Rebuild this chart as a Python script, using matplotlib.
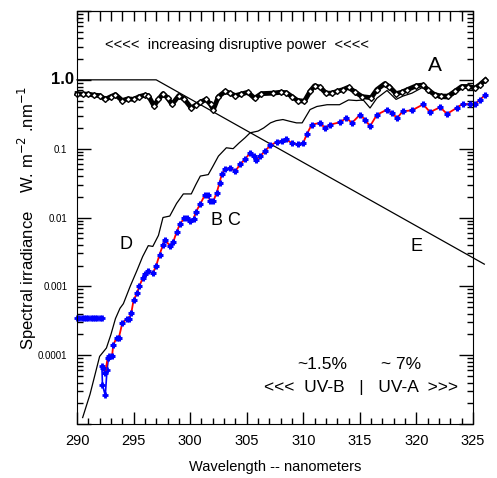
import numpy as np
import matplotlib
matplotlib.use("Agg")
import matplotlib.pyplot as plt
from matplotlib.ticker import MultipleLocator, LogLocator, NullFormatter
import matplotlib.transforms as mtransforms

plt.rcParams['font.family'] = ['Liberation Sans', 'DejaVu Sans']

# A : extraterrestrial spectrum (black diamonds)
a_wl = [290.0, 290.5, 291.0, 291.5, 292.0, 292.5, 293.0, 293.4, 294.0, 294.5,
        295.0, 295.5, 296.0, 296.3, 296.8, 297.2, 297.6, 298.0, 298.4, 299.0,
        299.5, 300.1, 300.5, 300.9, 301.4, 301.8, 302.05, 302.5, 303.1, 303.5,
        304.0, 304.5, 305.1, 305.7, 306.3, 307.3, 308.0, 308.5, 309.0, 309.5,
        310.1, 310.6, 311.0, 311.5, 312.0, 312.5, 313.0, 313.5, 314.0, 314.6,
        315.2, 316.0, 316.5, 317.2, 317.6, 318.2, 318.7, 319.2, 320.0, 320.6,
        321.0, 321.6, 322.2, 322.8, 323.4, 324.0, 324.6, 325.2, 325.6, 326.1]
a_val = [0.63, 0.62, 0.62, 0.60, 0.59, 0.52, 0.57, 0.61, 0.50, 0.53,
         0.52, 0.57, 0.60, 0.59, 0.42, 0.52, 0.63, 0.55, 0.44, 0.59,
         0.52, 0.39, 0.43, 0.47, 0.52, 0.44, 0.37, 0.57, 0.68, 0.64,
         0.59, 0.62, 0.66, 0.54, 0.63, 0.64, 0.66, 0.65, 0.57, 0.50,
         0.49, 0.68, 0.82, 0.78, 0.64, 0.64, 0.68, 0.72, 0.78, 0.66,
         0.57, 0.55, 0.72, 0.88, 0.80, 0.63, 0.66, 0.72, 0.82, 0.84,
         0.72, 0.61, 0.58, 0.58, 0.68, 0.80, 0.80, 0.76, 0.85, 1.00]

# D : thin black curve
d_wl = [290.5, 291.15, 292.0, 292.6, 293.0, 293.4, 293.8, 294.1, 294.7, 295.3,
        295.8, 296.3, 296.7, 297.2, 297.6, 298.2, 298.8, 299.4, 300.1, 300.5,
        300.9, 301.6, 302.0, 302.5, 303.2, 303.8, 304.3, 304.85, 305.3, 306.0,
        306.5, 307.1, 307.6, 308.2, 308.8, 309.4, 309.9, 310.6, 311.2, 312.1,
        313.2, 314.0, 314.7, 315.3, 315.9, 316.5, 317.4, 318.2, 318.8, 319.6,
        320.5, 321.2, 322.0, 322.8, 323.5, 324.0, 324.8, 325.3, 325.7, 326.1]
d_val = [1.24e-5, 2.7e-5, 9.6e-5, 1.27e-4, 2.0e-4, 3.4e-4, 4.8e-4, 5.6e-4, 1.0e-3, 1.7e-3,
         2.7e-3, 3.9e-3, 3.8e-3, 5.5e-3, 1.0e-2, 1.05e-2, 1.6e-2, 2.2e-2, 2.2e-2, 3.0e-2,
         4.0e-2, 4.2e-2, 5.5e-2, 7.8e-2, 0.103, 0.10, 0.12, 0.144, 0.17, 0.18,
         0.20, 0.237, 0.255, 0.265, 0.25, 0.237, 0.237, 0.37, 0.41, 0.435,
         0.435, 0.51, 0.50, 0.51, 0.39, 0.54, 0.70, 0.52, 0.58, 0.64,
         0.77, 0.66, 0.54, 0.53, 0.64, 0.75, 0.76, 0.72, 0.85, 1.00]

# B / C : blue crosses joined by red line
bc_wl = [292.3, 292.5, 292.7, 293.1, 293.2, 293.5, 293.7, 294.0, 294.4, 294.6,
         294.8, 295.0, 295.3, 295.5, 295.8, 296.0, 296.3, 296.7, 297.0, 297.3,
         297.6, 297.8, 298.2, 298.5, 298.8, 299.1, 299.5, 299.7, 300.0, 300.3,
         300.5, 300.9, 301.3, 301.6, 301.75, 302.05, 302.35, 302.6, 302.8, 303.1,
         303.5, 304.0, 304.4, 304.85, 305.3, 305.6, 305.8, 306.2, 306.6, 307.1,
         307.65, 308.1, 308.5, 309.0, 309.5, 310.0, 310.3, 310.75, 311.5, 311.9,
         312.4, 313.25, 313.8, 314.3, 315.0, 315.45, 315.9, 316.5, 317.4, 317.8,
         318.3, 318.8, 319.6, 320.6, 321.2, 322.1, 322.7, 323.55, 324.1, 324.7,
         325.2, 325.6, 326.1]
bc_val = [6.6e-5, 5.5e-5, 9.0e-5, 9.7e-5, 1.4e-4, 1.8e-4, 1.8e-4, 2.9e-4, 3.4e-4, 3.4e-4,
          4.1e-4, 6.3e-4, 7.9e-4, 1.0e-3, 1.3e-3, 1.5e-3, 1.65e-3, 1.55e-3, 2.0e-3, 2.9e-3,
          4.0e-3, 4.7e-3, 3.9e-3, 4.4e-3, 6.1e-3, 8.1e-3, 9.8e-3, 9.8e-3, 9.0e-3, 9.5e-3,
          1.2e-2, 1.58e-2, 2.12e-2, 2.1e-2, 1.75e-2, 1.73e-2, 2.3e-2, 3.2e-2, 4.3e-2, 5.0e-2,
          5.3e-2, 4.7e-2, 5.9e-2, 7.0e-2, 8.7e-2, 7.8e-2, 6.8e-2, 7.8e-2, 9.2e-2, 0.112,
          0.125, 0.130, 0.136, 0.120, 0.116, 0.122, 0.161, 0.224, 0.237, 0.20,
          0.224, 0.242, 0.28, 0.237, 0.31, 0.265, 0.212, 0.31, 0.37, 0.33,
          0.28, 0.35, 0.36, 0.44, 0.34, 0.40, 0.32, 0.39, 0.45, 0.44,
          0.45, 0.51, 0.61]

# short blue segment below the start of B/C
blue_lo_wl = [292.2, 292.25, 292.5, 292.65, 292.8]
blue_lo_val = [7.0e-5, 3.7e-5, 2.6e-5, 6.0e-5, 9.7e-5]

# flat blue crosses at the left edge
blue_flat_wl = [290.0, 290.2, 290.4, 290.6, 290.8, 291.0, 291.2, 291.4, 291.6, 291.8, 292.0, 292.2]
blue_flat_val = [3.5e-4] * 12

# E : disruptive power
e_wl = [290.0, 297.0, 326.0]
e_val = [1.0, 1.0, 0.0021]

fig = plt.figure(figsize=(4.97, 4.78), dpi=100)
ax = fig.add_axes([77/497, 54/478, 396/497, 413/478])

ax.plot(e_wl, e_val, color='black', lw=0.9, clip_on=False)
ax.plot(d_wl, d_val, color='black', lw=0.9, clip_on=False)
ax.plot(a_wl, a_val, color='black', lw=3.5, clip_on=False)
ax.plot(a_wl, a_val, ls='none', marker='D', ms=3, mfc='white', mec='black',
        mew=1.0, clip_on=False)
ax.plot(blue_lo_wl, blue_lo_val, color='blue', lw=1.2, marker='+', ms=5, mew=2, clip_on=False)
ax.plot(bc_wl, bc_val, color='red', lw=1.3, clip_on=False)
ax.plot(bc_wl, bc_val, ls='none', marker='+', ms=5, mew=2.2, color='blue', clip_on=False)
ax.plot(blue_flat_wl, blue_flat_val, color='blue', lw=1, marker='+', ms=5, mew=2, clip_on=False)

ax.set_yscale('log')
ax.set_xlim(290, 325)
ax.set_ylim(1e-5, 10)

ax.set_xticks(range(290, 326, 5))
ax.xaxis.set_minor_locator(MultipleLocator(1))
ax.set_yticks([1e-5, 1e-4, 1e-3, 1e-2, 1e-1, 1, 10])
ax.set_yticklabels(['', '0.0001', '0.001', '0.01', '0.1', '', ''], fontsize=7)
ax.yaxis.set_minor_locator(LogLocator(base=10, subs=np.arange(2, 10)))
ax.yaxis.set_minor_formatter(NullFormatter())

ax.tick_params(axis='x', which='both', direction='in', bottom=True, top=False, labelsize=10.5, pad=7)
ax.tick_params(axis='x', which='major', length=9, width=1)
ax.tick_params(axis='x', which='minor', length=4, width=1)
ax.tick_params(axis='y', which='both', direction='in', left=True, right=True, pad=7)
ax.tick_params(axis='y', which='major', length=10, width=1)
ax.tick_params(axis='y', which='minor', length=4, width=1)

top = ax.secondary_xaxis('top')
top.set_xticks(range(290, 326))
top.tick_params(direction='in', length=7, width=1, labeltop=False)

trans = mtransforms.blended_transform_factory(ax.transAxes, ax.transData)
ax.text(-0.008, 1.0, '1.0', transform=trans, ha='right', va='center',
        fontsize=12, fontweight='bold')

ax.set_xlabel('Wavelength -- nanometers', fontsize=10.5)
ax.xaxis.set_label_coords(0.5, -0.104)
ax.xaxis.label.set_va('center')
ax.set_ylabel('Spectral irradiance    W. m$^{-2}$ .nm$^{-1}$', fontsize=12)
ax.yaxis.set_label_coords(-0.126, 0.5)
ax.yaxis.label.set_va('center')

ax.text(304.1, 3.2, '<<<<  increasing disruptive power  <<<<', ha='center', va='center', fontsize=10.5)
ax.text(321.6, 1.64, 'A', ha='center', va='center', fontsize=15)
ax.text(303.2, 0.0089, 'B C', ha='center', va='center', fontsize=13)
ax.text(294.33, 0.00402, 'D', ha='center', va='center', fontsize=13)
ax.text(320.05, 0.00377, 'E', ha='center', va='center', fontsize=13)
ax.text(311.65, 7.2e-5, '~1.5%', ha='center', va='center', fontsize=12.5)
ax.text(318.64, 7.2e-5, '~ 7%', ha='center', va='center', fontsize=12.5)
ax.text(315.1, 3.4e-5, '<<<  UV-B   |   UV-A  >>>', ha='center', va='center', fontsize=12.5)

fig.savefig('out.png', dpi=100)
